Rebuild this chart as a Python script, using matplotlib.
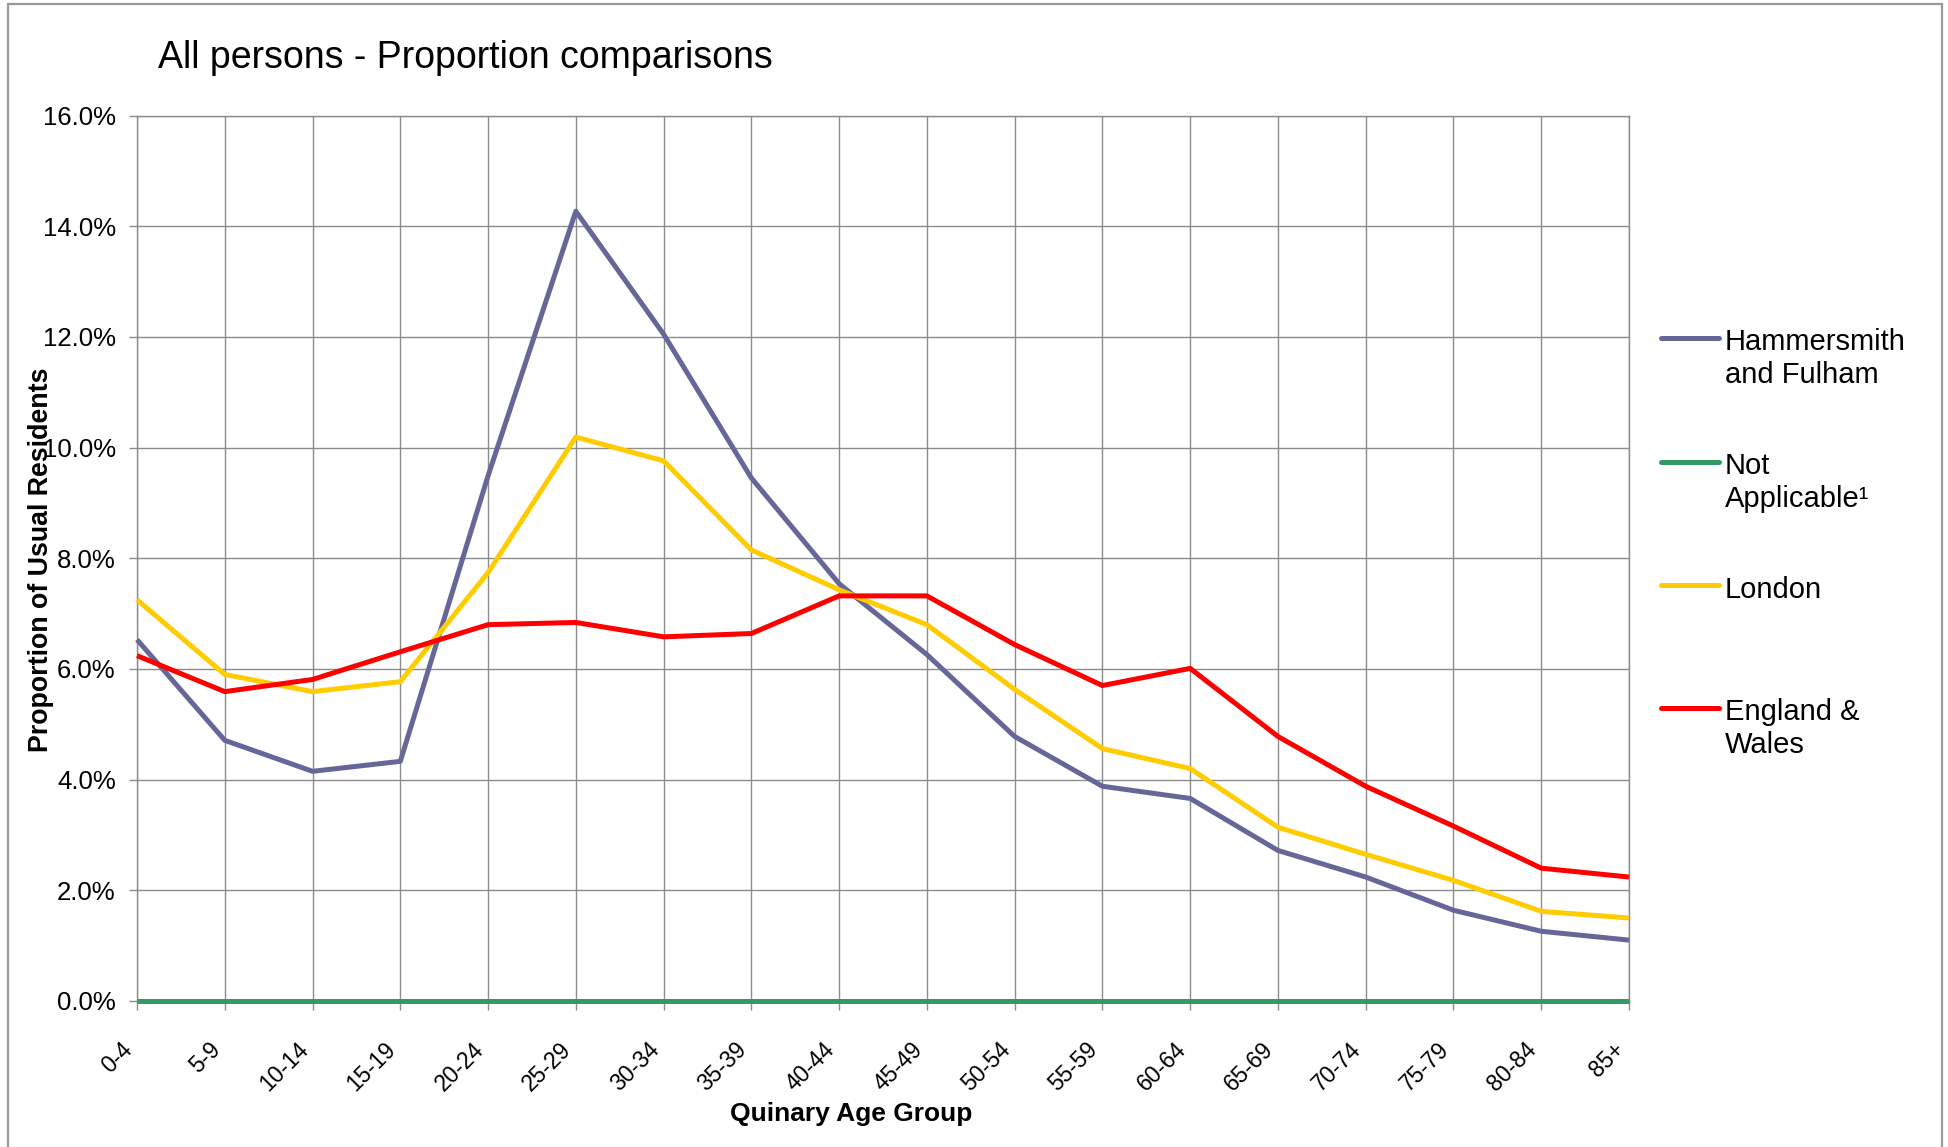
import matplotlib
matplotlib.use("Agg")
import matplotlib.pyplot as plt
from matplotlib.ticker import PercentFormatter, FixedLocator
from matplotlib.lines import Line2D
from matplotlib.patches import Rectangle
from matplotlib.transforms import ScaledTranslation

plt.rcParams['font.family'] = ['Liberation Sans', 'DejaVu Sans']

# ---------------- data ----------------
age_groups = ["0-4", "5-9", "10-14", "15-19", "20-24", "25-29", "30-34", "35-39",
              "40-44", "45-49", "50-54", "55-59", "60-64", "65-69", "70-74",
              "75-79", "80-84", "85+"]
hammersmith = [6.53, 4.71, 4.15, 4.33, 9.49, 14.27, 12.05, 9.45, 7.54, 6.26,
               4.78, 3.88, 3.66, 2.72, 2.24, 1.64, 1.26, 1.10]
not_applicable = [0.0] * 18
london = [7.25, 5.90, 5.59, 5.77, 7.74, 10.19, 9.76, 8.15, 7.43, 6.80,
          5.63, 4.56, 4.20, 3.14, 2.65, 2.18, 1.62, 1.50]
england_wales = [6.24, 5.59, 5.81, 6.31, 6.80, 6.84, 6.58, 6.64, 7.32, 7.32,
                 6.44, 5.70, 6.01, 4.78, 3.88, 3.16, 2.40, 2.24]

series_labels = ["Hammersmith\nand Fulham", "Not\nApplicable\u00b9", "London", "England &\nWales"]
series_values = [hammersmith, not_applicable, london, england_wales]
series_colors = ["#666699", "#339966", "#FFCC00", "#FF0000"]

title = "All persons - Proportion comparisons"
y_label = "Proportion of Usual Residents"
x_label = "Quinary Age Group"
y_ticks = [0, 2, 4, 6, 8, 10, 12, 14, 16]

# ---------------- figure ----------------
W, H = 1948, 1147
fig = plt.figure(figsize=(W / 100, H / 100), dpi=100)
ax = fig.add_axes([137 / W, 1 - 1001 / H, (1629 - 137) / W, (1001 - 115.5) / H])

grid_col = "#8c8c8c"
x = list(range(len(age_groups)))
for vals, col in zip(series_values, series_colors):
    ax.plot(x, vals, color=col, lw=3.6, solid_capstyle='butt', zorder=3, clip_on=False)

ax.set_xlim(0, len(age_groups) - 1)
ax.set_ylim(0, 16)
ax.yaxis.set_major_locator(FixedLocator(y_ticks))
ax.yaxis.set_major_formatter(PercentFormatter(xmax=100, decimals=1))
ax.set_xticks(x)
ax.set_xticklabels(age_groups, rotation=45, ha='right', va='center',
                   rotation_mode='anchor', fontsize=16.5)
ax.tick_params(axis='x', length=6.5, width=1, color=grid_col, pad=26)
ax.tick_params(axis='y', length=5.8, width=1, color=grid_col, pad=9.5, labelsize=18.5)
for lab in ax.get_xticklabels():
    lab.set_transform(lab.get_transform() + ScaledTranslation(-8 / 100, 0, fig.dpi_scale_trans))

ax.grid(True, color=grid_col, lw=1.0, zorder=0)
ax.set_axisbelow(True)
for s in ax.spines.values():
    s.set_color(grid_col)
    s.set_linewidth(1.0)

# titles / axis labels
fig.text(158 / W, 1 - 58 / H, title, fontsize=27, ha='left', va='center')
fig.text(41 / W, 1 - 560 / H, y_label, fontsize=19.3, fontweight='bold',
         rotation=90, ha='center', va='center')
fig.text(851 / W, 1 - 1114 / H, x_label, fontsize=19, fontweight='bold',
         ha='center', va='center')

# legend (drawn manually to keep the handle aligned with the first text line)
leg_y = [338, 462, 585, 708]
for lbl, col, yy in zip(series_labels, series_colors, leg_y):
    fig.add_artist(Line2D([1661 / W, 1719 / W], [1 - yy / H, 1 - yy / H],
                          color=col, lw=3.6, solid_capstyle='round',
                          transform=fig.transFigure))
    fig.text(1725 / W, 1 - (yy - 9.5) / H, lbl, fontsize=21, ha='left',
             va='top', linespacing=1.2)

# outer chart border
fig.add_artist(Rectangle((8 / W, -0.02), (1942 - 8) / W, 1.02 - 4 / H,
                         transform=fig.transFigure, fill=False,
                         edgecolor="#9a9a9a", lw=1.6))

fig.savefig("out.png", dpi=100)
